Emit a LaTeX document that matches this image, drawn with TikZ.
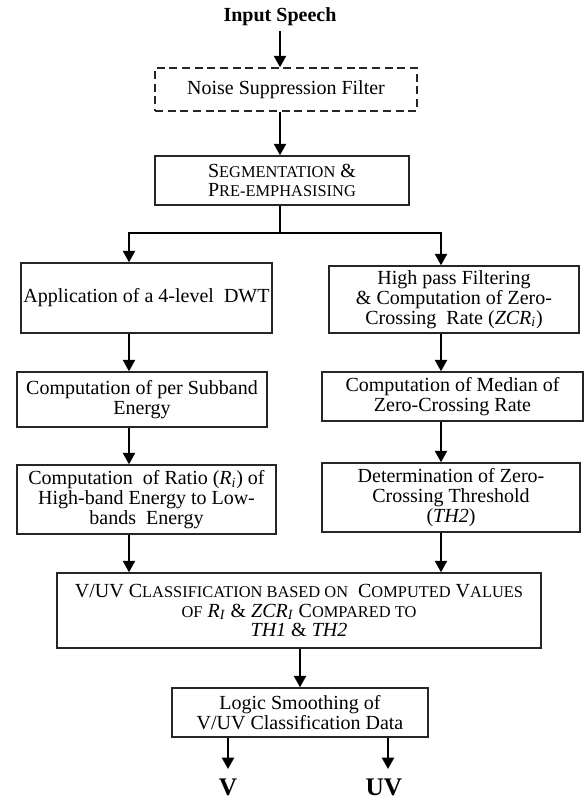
\documentclass[tikz,border=0pt]{standalone}
\usepackage{fontspec}
\setmainfont{Liberation Serif}
\usetikzlibrary{arrows.meta,positioning}
\newcommand{\smc}[1]{{\fontsize{12.3}{14.8}\selectfont #1}}
\tikzset{
  blk/.style 2 args={rectangle, draw=black!85, line width=1.1pt, align=center,
    inner sep=2pt, minimum width=#1*0.75pt, minimum height=#2*0.75pt,
    font=\fontsize{15}{14.8}\selectfont},
  dblk/.style 2 args={blk={#1}{#2}, dash pattern=on 6pt off 3.5pt},
  flow/.style={-{Triangle[length=8.5pt,width=9pt]}, line width=1.5pt, draw=black},
  link/.style={line width=1.5pt, draw=black},
  inlbl/.style={font=\bfseries\fontsize{15}{18}\selectfont},
  outlbl/.style={font=\bfseries\fontsize{19}{22}\selectfont},
}
\begin{document}
\begin{tikzpicture}[x=0.75pt, y=-0.75pt]
  \useasboundingbox (0,0) rectangle (585,801);
  % columns of the arrows
  \coordinate (lc) at (129,0);
  \coordinate (rc) at (441,0);
  \coordinate (split) at (280,233);
  \coordinate (vtip) at (228,769);
  \coordinate (uvtip) at (388,769);

  \node[inlbl] (input) at (280,17) {Input Speech};
  \node[dblk={262}{43}] (nsf) at (286,89.5) {Noise Suppression Filter};
  \node[blk={254}{49}] (seg) at (282,180.5) {S\smc{EGMENTATION} \&\\P\smc{RE-EMPHASISING}};

  \node[blk={251}{70}] (dwt) at (146.5,298) {Application of a 4-level\ \ DWT};
  \node[blk={250}{55}] (sub) at (142,399.5) {Computation of per Subband\\Energy};
  \node[blk={259}{69}] (ratio) at (146.5,499.5)
    {Computation\ \ of Ratio (\textit{R}\textsubscript{\textit{i}}) of\\High-band Energy to Low-\\bands\ \ Energy};

  \node[blk={250}{67}] (hpf) at (454,299.5)
    {High pass Filtering\\\& Computation of Zero-\\Crossing\ \ Rate (\textit{ZCR}\textsubscript{\textit{i}})};
  \node[blk={261}{49}] (med) at (452.5,396.5) {Computation of Median of\\Zero-Crossing Rate};
  \node[blk={258}{69}] (thr) at (451,497.5) {Determination of Zero-\\Crossing Threshold\\(\textit{TH2})};

  \node[blk={484}{75}] (cls) at (299,610.5)
    {V/UV C\smc{LASSIFICATION BASED ON}\ \ C\smc{OMPUTED} V\smc{ALUES}\\
     \smc{OF} \textit{R}\textsubscript{\textit{I}} \& \textit{ZCR}\textsubscript{\textit{I}} C\smc{OMPARED TO}\\
     \textit{TH1} \& \textit{TH2}};
  \node[blk={256}{49}] (logic) at (300,712.5) {Logic Smoothing of\\V/UV Classification Data};

  \node[outlbl] (v) at (228,787) {V};
  \node[outlbl] (uv) at (384,787) {UV};

  \draw[flow] (input.south) -- (input.south |- nsf.north);
  \draw[flow] (input |- nsf.south) -- (input |- seg.north);
  \draw[link] (seg.south -| split) -- (split);
  \draw[flow] (split) -| (dwt.north -| lc);
  \draw[flow] (split) -| (hpf.north -| rc);

  \draw[flow] (dwt.south -| lc) -- (sub.north -| lc);
  \draw[flow] (sub.south -| lc) -- (ratio.north -| lc);
  \draw[flow] (ratio.south -| lc) -- (cls.north -| lc);

  \draw[flow] (hpf.south -| rc) -- (med.north -| rc);
  \draw[flow] (med.south -| rc) -- (thr.north -| rc);
  \draw[flow] (thr.south -| rc) -- (cls.north -| rc);

  \draw[flow] (cls.south -| logic) -- (logic.north);
  \draw[flow] (logic.south -| vtip) -- (vtip);
  \draw[flow] (logic.south -| uvtip) -- (uvtip);
\end{tikzpicture}
\end{document}
